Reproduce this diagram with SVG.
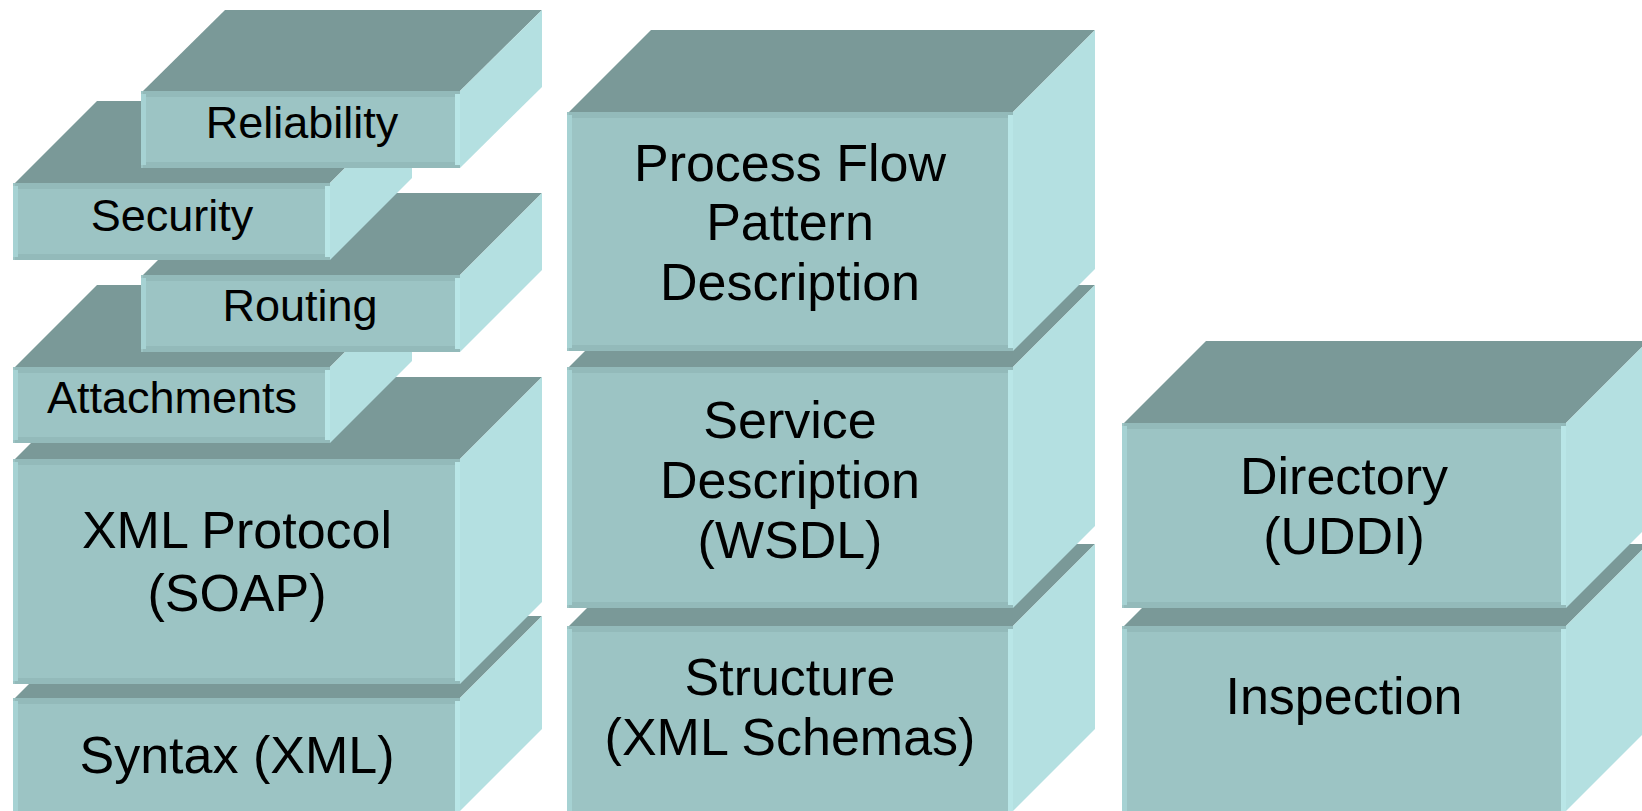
<svg xmlns="http://www.w3.org/2000/svg" width="1642" height="811" viewBox="0 0 1642 811">
<style>
.top{fill:#7A9998}
.side{fill:#B4E0E1}
.front{fill:#9CC4C4}
.hs{fill:#93BABA}
.ls{fill:#A6D2D3}
.rs{fill:#B9E6E7}
text{font-family:"Liberation Sans",Arial,sans-serif;font-size:52px;fill:#000;text-anchor:middle}
text.sm{font-size:45px}
</style>
<rect width="1642" height="811" fill="#fff"/>
<g id="syntax">
<polygon class="top" points="15,698 97,616 542,616 460,698"/>
<polygon class="side" points="460,698 542,616 542,729 460,811"/>
<rect class="front" x="13" y="698" width="447" height="113"/>
<rect class="hs" x="15" y="698" width="445" height="6"/>
<rect class="ls" x="13" y="701" width="5" height="110"/>
<rect class="rs" x="455" y="701" width="5" height="110"/>
<text x="237" y="773">Syntax (XML)</text>
</g>
<g id="soap">
<polygon class="top" points="15,459 97,377 542,377 460,459"/>
<polygon class="side" points="460,459 542,377 542,602 460,684"/>
<rect class="front" x="13" y="459" width="447" height="225"/>
<rect class="hs" x="15" y="459" width="445" height="6"/>
<rect class="hs" x="15" y="678" width="445" height="6"/>
<rect class="ls" x="13" y="462" width="5" height="219"/>
<rect class="rs" x="455" y="462" width="5" height="219"/>
<text x="237" y="548">XML Protocol</text>
<text x="237" y="611">(SOAP)</text>
</g>
<g id="attachments">
<polygon class="top" points="15,367 97,285 412,285 330,367"/>
<polygon class="side" points="330,367 412,285 412,361 330,443"/>
<rect class="front" x="13" y="367" width="317" height="76"/>
<rect class="hs" x="15" y="367" width="315" height="6"/>
<rect class="hs" x="15" y="437" width="315" height="6"/>
<rect class="ls" x="13" y="370" width="5" height="70"/>
<rect class="rs" x="325" y="370" width="5" height="70"/>
<text class="sm" x="172" y="413">Attachments</text>
</g>
<g id="routing">
<polygon class="top" points="143,275 225,193 542,193 460,275"/>
<polygon class="side" points="460,275 542,193 542,270 460,352"/>
<rect class="front" x="141" y="275" width="319" height="77"/>
<rect class="hs" x="143" y="275" width="317" height="6"/>
<rect class="hs" x="143" y="346" width="317" height="6"/>
<rect class="ls" x="141" y="278" width="5" height="71"/>
<rect class="rs" x="455" y="278" width="5" height="71"/>
<text class="sm" x="300" y="321">Routing</text>
</g>
<g id="security">
<polygon class="top" points="15,183 97,101 412,101 330,183"/>
<polygon class="side" points="330,183 412,101 412,178 330,260"/>
<rect class="front" x="13" y="183" width="317" height="77"/>
<rect class="hs" x="15" y="183" width="315" height="6"/>
<rect class="hs" x="15" y="254" width="315" height="6"/>
<rect class="ls" x="13" y="186" width="5" height="71"/>
<rect class="rs" x="325" y="186" width="5" height="71"/>
<text class="sm" x="172" y="231">Security</text>
</g>
<g id="reliability">
<polygon class="top" points="143,91 225,10 542,10 460,91"/>
<polygon class="side" points="460,91 542,10 542,87 460,168"/>
<rect class="front" x="141" y="91" width="319" height="77"/>
<rect class="hs" x="143" y="91" width="317" height="6"/>
<rect class="hs" x="143" y="162" width="317" height="6"/>
<rect class="ls" x="141" y="94" width="5" height="71"/>
<rect class="rs" x="455" y="94" width="5" height="71"/>
<text class="sm" x="302" y="138">Reliability</text>
</g>
<g id="structure">
<polygon class="top" points="569,626 651,544 1095,544 1013,626"/>
<polygon class="side" points="1013,626 1095,544 1095,729 1013,811"/>
<rect class="front" x="567" y="626" width="446" height="185"/>
<rect class="hs" x="569" y="626" width="444" height="6"/>
<rect class="ls" x="567" y="629" width="5" height="182"/>
<rect class="rs" x="1008" y="629" width="5" height="182"/>
<text x="790" y="695">Structure</text>
<text x="790" y="755">(XML Schemas)</text>
</g>
<g id="service">
<polygon class="top" points="569,367 651,285 1095,285 1013,367"/>
<polygon class="side" points="1013,367 1095,285 1095,526 1013,608"/>
<rect class="front" x="567" y="367" width="446" height="241"/>
<rect class="hs" x="569" y="367" width="444" height="6"/>
<rect class="hs" x="569" y="602" width="444" height="6"/>
<rect class="ls" x="567" y="370" width="5" height="235"/>
<rect class="rs" x="1008" y="370" width="5" height="235"/>
<text x="790" y="438">Service</text>
<text x="790" y="498">Description</text>
<text x="790" y="558">(WSDL)</text>
</g>
<g id="process">
<polygon class="top" points="569,112 651,30 1095,30 1013,112"/>
<polygon class="side" points="1013,112 1095,30 1095,269 1013,351"/>
<rect class="front" x="567" y="112" width="446" height="239"/>
<rect class="hs" x="569" y="112" width="444" height="6"/>
<rect class="hs" x="569" y="345" width="444" height="6"/>
<rect class="ls" x="567" y="115" width="5" height="233"/>
<rect class="rs" x="1008" y="115" width="5" height="233"/>
<text x="790" y="181">Process Flow</text>
<text x="790" y="240">Pattern</text>
<text x="790" y="300">Description</text>
</g>
<g id="inspection">
<polygon class="top" points="1124,626 1206,544 1648,544 1566,626"/>
<polygon class="side" points="1566,626 1648,544 1648,729 1566,811"/>
<rect class="front" x="1122" y="626" width="444" height="185"/>
<rect class="hs" x="1124" y="626" width="442" height="6"/>
<rect class="ls" x="1122" y="629" width="5" height="182"/>
<rect class="rs" x="1561" y="629" width="5" height="182"/>
<text x="1344" y="714">Inspection</text>
</g>
<g id="directory">
<polygon class="top" points="1124,423 1206,341 1648,341 1566,423"/>
<polygon class="side" points="1566,423 1648,341 1648,526 1566,608"/>
<rect class="front" x="1122" y="423" width="444" height="185"/>
<rect class="hs" x="1124" y="423" width="442" height="6"/>
<rect class="hs" x="1124" y="602" width="442" height="6"/>
<rect class="ls" x="1122" y="426" width="5" height="179"/>
<rect class="rs" x="1561" y="426" width="5" height="179"/>
<text x="1344" y="494">Directory</text>
<text x="1344" y="554">(UDDI)</text>
</g>
<g id="connectors"/>
</svg>
